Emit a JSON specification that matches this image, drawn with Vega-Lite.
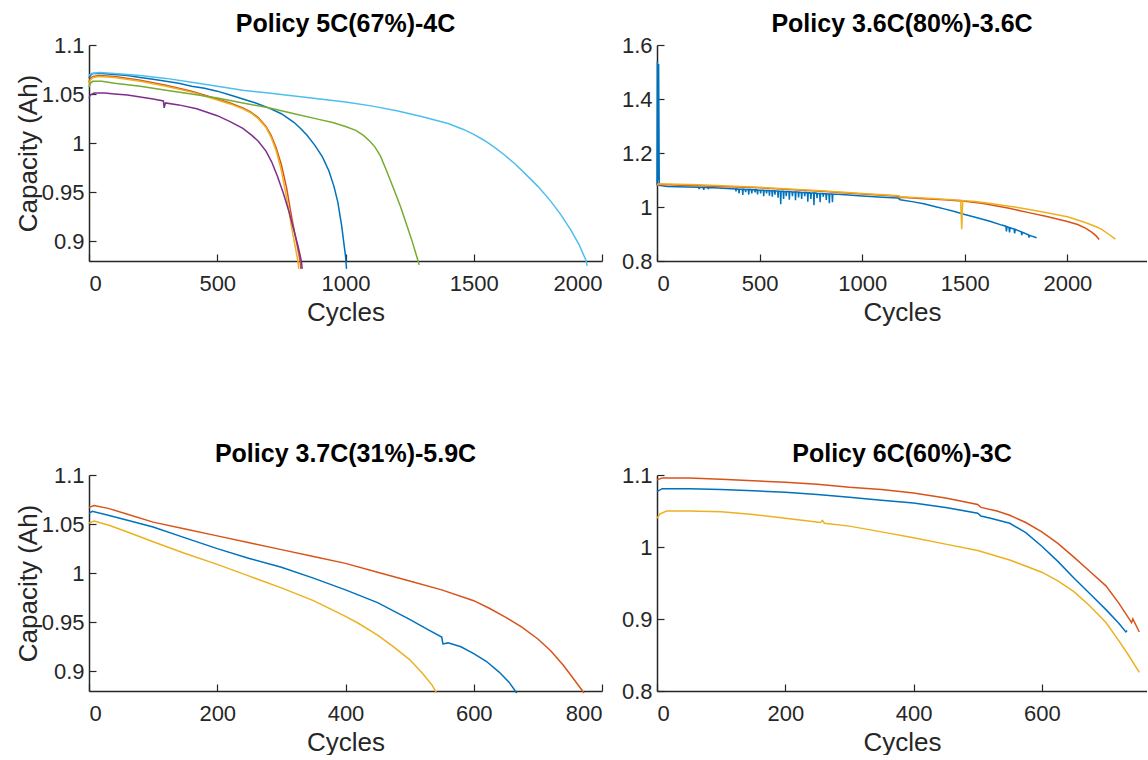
{
  "$schema": "https://vega.github.io/schema/vega-lite/v6.json",
  "background": "white",
  "padding": {"left": 15, "top": 12, "right": 0, "bottom": 0},
  "config": {
    "font": "Liberation Sans",
    "view": {"stroke": null},
    "axis": {"grid": false, "domainColor": "#262626", "tickColor": "#262626", "labelColor": "#262626", "titleColor": "#262626", "labelFontSize": 22, "titleFontSize": 26, "titleFontWeight": "normal", "tickSize": -7, "domainWidth": 1.5, "tickWidth": 1.2, "labelFont": "Liberation Sans", "titleFont": "Liberation Sans"},
    "axisX": {"labelPadding": 19, "titlePadding": 5},
    "axisY": {"labelPadding": 12, "titlePadding": 0},
    "title": {"fontSize": 25, "fontWeight": "bold", "color": "#000000", "anchor": "middle", "frame": "group", "font": "Liberation Sans", "offset": -3},
    "line": {"strokeWidth": 1.5, "clip": true}
  },
  "datasets": {
    "p1": [
      {"cell":"a1","cycle":0,"cap":1.066},{"cell":"a1","cycle":5,"cap":1.069},{"cell":"a1","cycle":15,"cap":1.071},{"cell":"a1","cycle":50,"cap":1.071},{"cell":"a1","cycle":100,"cap":1.070},{"cell":"a1","cycle":150,"cap":1.069},{"cell":"a1","cycle":200,"cap":1.067},{"cell":"a1","cycle":250,"cap":1.065},{"cell":"a1","cycle":300,"cap":1.063},{"cell":"a1","cycle":350,"cap":1.061},{"cell":"a1","cycle":400,"cap":1.058},{"cell":"a1","cycle":450,"cap":1.056},{"cell":"a1","cycle":500,"cap":1.053},{"cell":"a1","cycle":550,"cap":1.049},{"cell":"a1","cycle":600,"cap":1.045},{"cell":"a1","cycle":650,"cap":1.041},{"cell":"a1","cycle":700,"cap":1.036},{"cell":"a1","cycle":750,"cap":1.030},{"cell":"a1","cycle":800,"cap":1.021},{"cell":"a1","cycle":825,"cap":1.015},{"cell":"a1","cycle":850,"cap":1.008},{"cell":"a1","cycle":880,"cap":0.998},{"cell":"a1","cycle":910,"cap":0.986},{"cell":"a1","cycle":935,"cap":0.972},{"cell":"a1","cycle":955,"cap":0.956},{"cell":"a1","cycle":970,"cap":0.940},{"cell":"a1","cycle":985,"cap":0.916},{"cell":"a1","cycle":1000,"cap":0.885},{"cell":"a1","cycle":1004,"cap":0.872},
      {"cell":"a2","cycle":0,"cap":1.062},{"cell":"a2","cycle":5,"cap":1.066},{"cell":"a2","cycle":15,"cap":1.068},{"cell":"a2","cycle":40,"cap":1.069},{"cell":"a2","cycle":100,"cap":1.068},{"cell":"a2","cycle":200,"cap":1.064},{"cell":"a2","cycle":300,"cap":1.059},{"cell":"a2","cycle":400,"cap":1.053},{"cell":"a2","cycle":500,"cap":1.045},{"cell":"a2","cycle":550,"cap":1.041},{"cell":"a2","cycle":600,"cap":1.036},{"cell":"a2","cycle":630,"cap":1.032},{"cell":"a2","cycle":660,"cap":1.026},{"cell":"a2","cycle":690,"cap":1.017},{"cell":"a2","cycle":710,"cap":1.008},{"cell":"a2","cycle":730,"cap":0.995},{"cell":"a2","cycle":750,"cap":0.978},{"cell":"a2","cycle":770,"cap":0.955},{"cell":"a2","cycle":790,"cap":0.925},{"cell":"a2","cycle":810,"cap":0.898},{"cell":"a2","cycle":823,"cap":0.880},{"cell":"a2","cycle":826,"cap":0.872},
      {"cell":"a3","cycle":0,"cap":1.060},{"cell":"a3","cycle":5,"cap":1.064},{"cell":"a3","cycle":15,"cap":1.067},{"cell":"a3","cycle":40,"cap":1.068},{"cell":"a3","cycle":100,"cap":1.067},{"cell":"a3","cycle":200,"cap":1.063},{"cell":"a3","cycle":300,"cap":1.058},{"cell":"a3","cycle":400,"cap":1.052},{"cell":"a3","cycle":500,"cap":1.044},{"cell":"a3","cycle":550,"cap":1.040},{"cell":"a3","cycle":600,"cap":1.035},{"cell":"a3","cycle":630,"cap":1.031},{"cell":"a3","cycle":660,"cap":1.025},{"cell":"a3","cycle":690,"cap":1.016},{"cell":"a3","cycle":710,"cap":1.006},{"cell":"a3","cycle":730,"cap":0.992},{"cell":"a3","cycle":750,"cap":0.972},{"cell":"a3","cycle":770,"cap":0.945},{"cell":"a3","cycle":790,"cap":0.914},{"cell":"a3","cycle":805,"cap":0.893},{"cell":"a3","cycle":815,"cap":0.879},{"cell":"a3","cycle":818,"cap":0.872},
      {"cell":"a4","cycle":0,"cap":1.046},{"cell":"a4","cycle":5,"cap":1.049},{"cell":"a4","cycle":20,"cap":1.051},{"cell":"a4","cycle":60,"cap":1.051},{"cell":"a4","cycle":100,"cap":1.050},{"cell":"a4","cycle":150,"cap":1.049},{"cell":"a4","cycle":200,"cap":1.047},{"cell":"a4","cycle":250,"cap":1.045},{"cell":"a4","cycle":290,"cap":1.043},{"cell":"a4","cycle":293,"cap":1.036},{"cell":"a4","cycle":298,"cap":1.041},{"cell":"a4","cycle":350,"cap":1.039},{"cell":"a4","cycle":420,"cap":1.035},{"cell":"a4","cycle":500,"cap":1.028},{"cell":"a4","cycle":550,"cap":1.022},{"cell":"a4","cycle":600,"cap":1.015},{"cell":"a4","cycle":635,"cap":1.008},{"cell":"a4","cycle":660,"cap":1.002},{"cell":"a4","cycle":690,"cap":0.992},{"cell":"a4","cycle":712,"cap":0.981},{"cell":"a4","cycle":735,"cap":0.966},{"cell":"a4","cycle":759,"cap":0.948},{"cell":"a4","cycle":780,"cap":0.930},{"cell":"a4","cycle":800,"cap":0.910},{"cell":"a4","cycle":815,"cap":0.895},{"cell":"a4","cycle":828,"cap":0.880},{"cell":"a4","cycle":831,"cap":0.872},
      {"cell":"a5","cycle":0,"cap":1.057},{"cell":"a5","cycle":5,"cap":1.061},{"cell":"a5","cycle":15,"cap":1.063},{"cell":"a5","cycle":50,"cap":1.063},{"cell":"a5","cycle":100,"cap":1.061},{"cell":"a5","cycle":200,"cap":1.058},{"cell":"a5","cycle":300,"cap":1.054},{"cell":"a5","cycle":400,"cap":1.050},{"cell":"a5","cycle":500,"cap":1.046},{"cell":"a5","cycle":600,"cap":1.041},{"cell":"a5","cycle":700,"cap":1.036},{"cell":"a5","cycle":800,"cap":1.030},{"cell":"a5","cycle":900,"cap":1.024},{"cell":"a5","cycle":950,"cap":1.021},{"cell":"a5","cycle":1000,"cap":1.017},{"cell":"a5","cycle":1040,"cap":1.013},{"cell":"a5","cycle":1070,"cap":1.008},{"cell":"a5","cycle":1095,"cap":1.002},{"cell":"a5","cycle":1115,"cap":0.996},{"cell":"a5","cycle":1136,"cap":0.987},{"cell":"a5","cycle":1160,"cap":0.972},{"cell":"a5","cycle":1190,"cap":0.952},{"cell":"a5","cycle":1215,"cap":0.935},{"cell":"a5","cycle":1237,"cap":0.918},{"cell":"a5","cycle":1260,"cap":0.900},{"cell":"a5","cycle":1283,"cap":0.880},{"cell":"a5","cycle":1287,"cap":0.876},
      {"cell":"a6","cycle":0,"cap":1.069},{"cell":"a6","cycle":10,"cap":1.071},{"cell":"a6","cycle":40,"cap":1.072},{"cell":"a6","cycle":100,"cap":1.071},{"cell":"a6","cycle":200,"cap":1.069},{"cell":"a6","cycle":300,"cap":1.066},{"cell":"a6","cycle":400,"cap":1.062},{"cell":"a6","cycle":500,"cap":1.058},{"cell":"a6","cycle":600,"cap":1.054},{"cell":"a6","cycle":700,"cap":1.051},{"cell":"a6","cycle":800,"cap":1.048},{"cell":"a6","cycle":900,"cap":1.045},{"cell":"a6","cycle":1000,"cap":1.042},{"cell":"a6","cycle":1100,"cap":1.038},{"cell":"a6","cycle":1200,"cap":1.033},{"cell":"a6","cycle":1300,"cap":1.027},{"cell":"a6","cycle":1400,"cap":1.020},{"cell":"a6","cycle":1460,"cap":1.014},{"cell":"a6","cycle":1500,"cap":1.009},{"cell":"a6","cycle":1540,"cap":1.003},{"cell":"a6","cycle":1580,"cap":0.996},{"cell":"a6","cycle":1620,"cap":0.988},{"cell":"a6","cycle":1660,"cap":0.979},{"cell":"a6","cycle":1700,"cap":0.969},{"cell":"a6","cycle":1750,"cap":0.956},{"cell":"a6","cycle":1800,"cap":0.941},{"cell":"a6","cycle":1840,"cap":0.927},{"cell":"a6","cycle":1880,"cap":0.911},{"cell":"a6","cycle":1910,"cap":0.897},{"cell":"a6","cycle":1937,"cap":0.881},{"cell":"a6","cycle":1942,"cap":0.875}
    ],
    "p2": [
      {"cell":"b1","cycle":0,"cap":1.080},{"cell":"b1","cycle":2,"cap":1.54},{"cell":"b1","cycle":5,"cap":1.10},{"cell":"b1","cycle":8,"cap":1.53},{"cell":"b1","cycle":11,"cap":1.08},{"cell":"b1","cycle":50,"cap":1.076},{"cell":"b1","cycle":150,"cap":1.074},
      {"cell":"b1","cycle":203,"cap":1.073},{"cell":"b1","cycle":205,"cap":1.066},{"cell":"b1","cycle":207,"cap":1.073},
      {"cell":"b1","cycle":226,"cap":1.072},{"cell":"b1","cycle":228,"cap":1.063},{"cell":"b1","cycle":230,"cap":1.072},
      {"cell":"b1","cycle":248,"cap":1.072},{"cell":"b1","cycle":250,"cap":1.066},{"cell":"b1","cycle":252,"cap":1.072},
      {"cell":"b1","cycle":300,"cap":1.070},
      {"cell":"b1","cycle":383,"cap":1.067},{"cell":"b1","cycle":385,"cap":1.058},{"cell":"b1","cycle":387,"cap":1.067},
      {"cell":"b1","cycle":398,"cap":1.066},{"cell":"b1","cycle":400,"cap":1.050},{"cell":"b1","cycle":402,"cap":1.066},
      {"cell":"b1","cycle":416,"cap":1.066},{"cell":"b1","cycle":418,"cap":1.045},{"cell":"b1","cycle":420,"cap":1.066},
      {"cell":"b1","cycle":430,"cap":1.065},{"cell":"b1","cycle":432,"cap":1.055},{"cell":"b1","cycle":434,"cap":1.065},
      {"cell":"b1","cycle":445,"cap":1.065},{"cell":"b1","cycle":447,"cap":1.046},{"cell":"b1","cycle":449,"cap":1.065},
      {"cell":"b1","cycle":460,"cap":1.064},{"cell":"b1","cycle":462,"cap":1.050},{"cell":"b1","cycle":464,"cap":1.064},
      {"cell":"b1","cycle":476,"cap":1.064},{"cell":"b1","cycle":478,"cap":1.054},{"cell":"b1","cycle":480,"cap":1.064},
      {"cell":"b1","cycle":488,"cap":1.063},{"cell":"b1","cycle":490,"cap":1.047},{"cell":"b1","cycle":492,"cap":1.063},
      {"cell":"b1","cycle":503,"cap":1.062},{"cell":"b1","cycle":505,"cap":1.050},{"cell":"b1","cycle":507,"cap":1.062},
      {"cell":"b1","cycle":518,"cap":1.062},{"cell":"b1","cycle":520,"cap":1.040},{"cell":"b1","cycle":522,"cap":1.062},
      {"cell":"b1","cycle":532,"cap":1.061},{"cell":"b1","cycle":534,"cap":1.050},{"cell":"b1","cycle":536,"cap":1.061},
      {"cell":"b1","cycle":546,"cap":1.061},{"cell":"b1","cycle":548,"cap":1.042},{"cell":"b1","cycle":550,"cap":1.061},
      {"cell":"b1","cycle":560,"cap":1.060},{"cell":"b1","cycle":562,"cap":1.038},{"cell":"b1","cycle":564,"cap":1.060},
      {"cell":"b1","cycle":573,"cap":1.060},{"cell":"b1","cycle":575,"cap":1.046},{"cell":"b1","cycle":577,"cap":1.060},
      {"cell":"b1","cycle":588,"cap":1.059},{"cell":"b1","cycle":590,"cap":1.034},{"cell":"b1","cycle":592,"cap":1.059},
      {"cell":"b1","cycle":601,"cap":1.058},{"cell":"b1","cycle":603,"cap":1.010},{"cell":"b1","cycle":605,"cap":1.058},
      {"cell":"b1","cycle":615,"cap":1.058},{"cell":"b1","cycle":617,"cap":1.030},{"cell":"b1","cycle":619,"cap":1.058},
      {"cell":"b1","cycle":628,"cap":1.057},{"cell":"b1","cycle":630,"cap":1.040},{"cell":"b1","cycle":632,"cap":1.057},
      {"cell":"b1","cycle":643,"cap":1.057},{"cell":"b1","cycle":645,"cap":1.027},{"cell":"b1","cycle":647,"cap":1.057},
      {"cell":"b1","cycle":658,"cap":1.056},{"cell":"b1","cycle":660,"cap":1.040},{"cell":"b1","cycle":662,"cap":1.056},
      {"cell":"b1","cycle":673,"cap":1.056},{"cell":"b1","cycle":675,"cap":1.025},{"cell":"b1","cycle":677,"cap":1.056},
      {"cell":"b1","cycle":688,"cap":1.055},{"cell":"b1","cycle":690,"cap":1.035},{"cell":"b1","cycle":692,"cap":1.055},
      {"cell":"b1","cycle":703,"cap":1.054},{"cell":"b1","cycle":705,"cap":1.030},{"cell":"b1","cycle":707,"cap":1.054},
      {"cell":"b1","cycle":718,"cap":1.054},{"cell":"b1","cycle":720,"cap":1.040},{"cell":"b1","cycle":722,"cap":1.054},
      {"cell":"b1","cycle":733,"cap":1.053},{"cell":"b1","cycle":735,"cap":1.020},{"cell":"b1","cycle":737,"cap":1.053},
      {"cell":"b1","cycle":748,"cap":1.052},{"cell":"b1","cycle":750,"cap":1.030},{"cell":"b1","cycle":752,"cap":1.052},
      {"cell":"b1","cycle":763,"cap":1.052},{"cell":"b1","cycle":765,"cap":1.007},{"cell":"b1","cycle":767,"cap":1.052},
      {"cell":"b1","cycle":778,"cap":1.051},{"cell":"b1","cycle":780,"cap":1.033},{"cell":"b1","cycle":782,"cap":1.051},
      {"cell":"b1","cycle":793,"cap":1.050},{"cell":"b1","cycle":795,"cap":1.018},{"cell":"b1","cycle":797,"cap":1.050},
      {"cell":"b1","cycle":808,"cap":1.050},{"cell":"b1","cycle":810,"cap":1.038},{"cell":"b1","cycle":812,"cap":1.050},
      {"cell":"b1","cycle":823,"cap":1.049},{"cell":"b1","cycle":825,"cap":1.026},{"cell":"b1","cycle":827,"cap":1.049},
      {"cell":"b1","cycle":838,"cap":1.048},{"cell":"b1","cycle":840,"cap":1.014},{"cell":"b1","cycle":842,"cap":1.048},
      {"cell":"b1","cycle":853,"cap":1.048},{"cell":"b1","cycle":855,"cap":1.018},{"cell":"b1","cycle":857,"cap":1.048},
      {"cell":"b1","cycle":900,"cap":1.046},{"cell":"b1","cycle":1000,"cap":1.041},{"cell":"b1","cycle":1100,"cap":1.036},{"cell":"b1","cycle":1175,"cap":1.033},{"cell":"b1","cycle":1185,"cap":1.027},{"cell":"b1","cycle":1250,"cap":1.019},{"cell":"b1","cycle":1300,"cap":1.012},{"cell":"b1","cycle":1358,"cap":1.001},{"cell":"b1","cycle":1400,"cap":0.993},{"cell":"b1","cycle":1450,"cap":0.983},{"cell":"b1","cycle":1500,"cap":0.972},{"cell":"b1","cycle":1560,"cap":0.960},{"cell":"b1","cycle":1626,"cap":0.946},{"cell":"b1","cycle":1680,"cap":0.933},
      {"cell":"b1","cycle":1700,"cap":0.929},{"cell":"b1","cycle":1703,"cap":0.910},{"cell":"b1","cycle":1706,"cap":0.927},
      {"cell":"b1","cycle":1715,"cap":0.925},{"cell":"b1","cycle":1718,"cap":0.906},{"cell":"b1","cycle":1721,"cap":0.923},
      {"cell":"b1","cycle":1740,"cap":0.918},{"cell":"b1","cycle":1743,"cap":0.902},{"cell":"b1","cycle":1746,"cap":0.917},
      {"cell":"b1","cycle":1775,"cap":0.908},{"cell":"b1","cycle":1778,"cap":0.896},{"cell":"b1","cycle":1781,"cap":0.906},
      {"cell":"b1","cycle":1810,"cap":0.897},{"cell":"b1","cycle":1813,"cap":0.887},{"cell":"b1","cycle":1816,"cap":0.895},
      {"cell":"b1","cycle":1850,"cap":0.886},
      {"cell":"b2","cycle":0,"cap":1.080},{"cell":"b2","cycle":10,"cap":1.083},{"cell":"b2","cycle":200,"cap":1.079},{"cell":"b2","cycle":500,"cap":1.071},{"cell":"b2","cycle":800,"cap":1.058},{"cell":"b2","cycle":1000,"cap":1.048},{"cell":"b2","cycle":1180,"cap":1.040},{"cell":"b2","cycle":1184,"cap":1.033},{"cell":"b2","cycle":1190,"cap":1.036},{"cell":"b2","cycle":1300,"cap":1.031},{"cell":"b2","cycle":1400,"cap":1.027},{"cell":"b2","cycle":1500,"cap":1.021},{"cell":"b2","cycle":1590,"cap":1.013},{"cell":"b2","cycle":1650,"cap":1.005},{"cell":"b2","cycle":1716,"cap":0.995},{"cell":"b2","cycle":1800,"cap":0.981},{"cell":"b2","cycle":1900,"cap":0.965},{"cell":"b2","cycle":2000,"cap":0.946},{"cell":"b2","cycle":2050,"cap":0.935},{"cell":"b2","cycle":2090,"cap":0.921},{"cell":"b2","cycle":2120,"cap":0.906},{"cell":"b2","cycle":2140,"cap":0.893},{"cell":"b2","cycle":2155,"cap":0.880},
      {"cell":"b3","cycle":0,"cap":1.083},{"cell":"b3","cycle":10,"cap":1.086},{"cell":"b3","cycle":200,"cap":1.082},{"cell":"b3","cycle":500,"cap":1.073},{"cell":"b3","cycle":800,"cap":1.060},{"cell":"b3","cycle":1000,"cap":1.050},{"cell":"b3","cycle":1180,"cap":1.042},{"cell":"b3","cycle":1184,"cap":1.036},{"cell":"b3","cycle":1190,"cap":1.038},{"cell":"b3","cycle":1300,"cap":1.033},{"cell":"b3","cycle":1400,"cap":1.029},{"cell":"b3","cycle":1480,"cap":1.025},{"cell":"b3","cycle":1485,"cap":0.918},{"cell":"b3","cycle":1490,"cap":1.024},{"cell":"b3","cycle":1550,"cap":1.020},{"cell":"b3","cycle":1600,"cap":1.016},{"cell":"b3","cycle":1700,"cap":1.005},{"cell":"b3","cycle":1800,"cap":0.993},{"cell":"b3","cycle":1900,"cap":0.979},{"cell":"b3","cycle":2000,"cap":0.964},{"cell":"b3","cycle":2050,"cap":0.952},{"cell":"b3","cycle":2100,"cap":0.939},{"cell":"b3","cycle":2140,"cap":0.927},{"cell":"b3","cycle":2165,"cap":0.918},{"cell":"b3","cycle":2200,"cap":0.900},{"cell":"b3","cycle":2234,"cap":0.881}
    ],
    "p3": [
      {"cell":"c1","cycle":0,"cap":1.061},{"cell":"c1","cycle":5,"cap":1.063},{"cell":"c1","cycle":30,"cap":1.059},{"cell":"c1","cycle":60,"cap":1.054},{"cell":"c1","cycle":100,"cap":1.047},{"cell":"c1","cycle":150,"cap":1.036},{"cell":"c1","cycle":200,"cap":1.025},{"cell":"c1","cycle":250,"cap":1.015},{"cell":"c1","cycle":300,"cap":1.006},{"cell":"c1","cycle":350,"cap":0.995},{"cell":"c1","cycle":400,"cap":0.983},{"cell":"c1","cycle":450,"cap":0.970},{"cell":"c1","cycle":500,"cap":0.953},{"cell":"c1","cycle":530,"cap":0.942},{"cell":"c1","cycle":550,"cap":0.935},{"cell":"c1","cycle":552,"cap":0.928},{"cell":"c1","cycle":560,"cap":0.929},{"cell":"c1","cycle":580,"cap":0.925},{"cell":"c1","cycle":600,"cap":0.918},{"cell":"c1","cycle":620,"cap":0.910},{"cell":"c1","cycle":640,"cap":0.899},{"cell":"c1","cycle":655,"cap":0.889},{"cell":"c1","cycle":667,"cap":0.878},
      {"cell":"c2","cycle":0,"cap":1.067},{"cell":"c2","cycle":8,"cap":1.069},{"cell":"c2","cycle":30,"cap":1.066},{"cell":"c2","cycle":60,"cap":1.060},{"cell":"c2","cycle":100,"cap":1.052},{"cell":"c2","cycle":150,"cap":1.045},{"cell":"c2","cycle":200,"cap":1.038},{"cell":"c2","cycle":250,"cap":1.031},{"cell":"c2","cycle":300,"cap":1.024},{"cell":"c2","cycle":350,"cap":1.017},{"cell":"c2","cycle":400,"cap":1.010},{"cell":"c2","cycle":450,"cap":1.001},{"cell":"c2","cycle":500,"cap":0.992},{"cell":"c2","cycle":550,"cap":0.983},{"cell":"c2","cycle":600,"cap":0.972},{"cell":"c2","cycle":625,"cap":0.964},{"cell":"c2","cycle":650,"cap":0.955},{"cell":"c2","cycle":675,"cap":0.945},{"cell":"c2","cycle":700,"cap":0.933},{"cell":"c2","cycle":720,"cap":0.921},{"cell":"c2","cycle":740,"cap":0.906},{"cell":"c2","cycle":755,"cap":0.893},{"cell":"c2","cycle":772,"cap":0.878},
      {"cell":"c3","cycle":0,"cap":1.051},{"cell":"c3","cycle":8,"cap":1.053},{"cell":"c3","cycle":30,"cap":1.049},{"cell":"c3","cycle":60,"cap":1.042},{"cell":"c3","cycle":100,"cap":1.032},{"cell":"c3","cycle":150,"cap":1.020},{"cell":"c3","cycle":200,"cap":1.009},{"cell":"c3","cycle":250,"cap":0.997},{"cell":"c3","cycle":300,"cap":0.985},{"cell":"c3","cycle":350,"cap":0.972},{"cell":"c3","cycle":400,"cap":0.956},{"cell":"c3","cycle":420,"cap":0.949},{"cell":"c3","cycle":450,"cap":0.937},{"cell":"c3","cycle":475,"cap":0.925},{"cell":"c3","cycle":500,"cap":0.912},{"cell":"c3","cycle":520,"cap":0.898},{"cell":"c3","cycle":535,"cap":0.886},{"cell":"c3","cycle":542,"cap":0.878}
    ],
    "p4": [
      {"cell":"d1","cycle":0,"cap":1.077},{"cell":"d1","cycle":8,"cap":1.081},{"cell":"d1","cycle":50,"cap":1.081},{"cell":"d1","cycle":100,"cap":1.080},{"cell":"d1","cycle":150,"cap":1.078},{"cell":"d1","cycle":200,"cap":1.076},{"cell":"d1","cycle":250,"cap":1.073},{"cell":"d1","cycle":300,"cap":1.069},{"cell":"d1","cycle":350,"cap":1.065},{"cell":"d1","cycle":400,"cap":1.061},{"cell":"d1","cycle":450,"cap":1.055},{"cell":"d1","cycle":500,"cap":1.047},{"cell":"d1","cycle":505,"cap":1.043},{"cell":"d1","cycle":520,"cap":1.040},{"cell":"d1","cycle":550,"cap":1.033},{"cell":"d1","cycle":575,"cap":1.020},{"cell":"d1","cycle":600,"cap":1.001},{"cell":"d1","cycle":625,"cap":0.980},{"cell":"d1","cycle":650,"cap":0.957},{"cell":"d1","cycle":675,"cap":0.935},{"cell":"d1","cycle":700,"cap":0.913},{"cell":"d1","cycle":720,"cap":0.894},{"cell":"d1","cycle":731,"cap":0.882},{"cell":"d1","cycle":733,"cap":0.884},
      {"cell":"d2","cycle":0,"cap":1.093},{"cell":"d2","cycle":8,"cap":1.096},{"cell":"d2","cycle":50,"cap":1.096},{"cell":"d2","cycle":100,"cap":1.094},{"cell":"d2","cycle":150,"cap":1.092},{"cell":"d2","cycle":200,"cap":1.090},{"cell":"d2","cycle":250,"cap":1.087},{"cell":"d2","cycle":300,"cap":1.083},{"cell":"d2","cycle":350,"cap":1.080},{"cell":"d2","cycle":400,"cap":1.075},{"cell":"d2","cycle":450,"cap":1.068},{"cell":"d2","cycle":500,"cap":1.059},{"cell":"d2","cycle":505,"cap":1.055},{"cell":"d2","cycle":530,"cap":1.050},{"cell":"d2","cycle":550,"cap":1.044},{"cell":"d2","cycle":575,"cap":1.034},{"cell":"d2","cycle":600,"cap":1.021},{"cell":"d2","cycle":625,"cap":1.005},{"cell":"d2","cycle":650,"cap":0.986},{"cell":"d2","cycle":675,"cap":0.966},{"cell":"d2","cycle":700,"cap":0.946},{"cell":"d2","cycle":720,"cap":0.922},{"cell":"d2","cycle":740,"cap":0.895},{"cell":"d2","cycle":742,"cap":0.900},{"cell":"d2","cycle":752,"cap":0.882},
      {"cell":"d3","cycle":0,"cap":1.040},{"cell":"d3","cycle":5,"cap":1.046},{"cell":"d3","cycle":15,"cap":1.050},{"cell":"d3","cycle":50,"cap":1.050},{"cell":"d3","cycle":100,"cap":1.049},{"cell":"d3","cycle":150,"cap":1.045},{"cell":"d3","cycle":200,"cap":1.040},{"cell":"d3","cycle":255,"cap":1.034},{"cell":"d3","cycle":258,"cap":1.037},{"cell":"d3","cycle":261,"cap":1.033},{"cell":"d3","cycle":300,"cap":1.029},{"cell":"d3","cycle":350,"cap":1.021},{"cell":"d3","cycle":400,"cap":1.013},{"cell":"d3","cycle":450,"cap":1.004},{"cell":"d3","cycle":500,"cap":0.995},{"cell":"d3","cycle":550,"cap":0.982},{"cell":"d3","cycle":600,"cap":0.965},{"cell":"d3","cycle":625,"cap":0.953},{"cell":"d3","cycle":650,"cap":0.938},{"cell":"d3","cycle":675,"cap":0.918},{"cell":"d3","cycle":700,"cap":0.895},{"cell":"d3","cycle":720,"cap":0.870},{"cell":"d3","cycle":735,"cap":0.850},{"cell":"d3","cycle":752,"cap":0.826}
    ]
  },
  "columns": 2,
  "spacing": {"row": 214, "column": 55},
  "bounds": "flush",
  "resolve": {"scale": {"color": "independent", "x": "independent", "y": "independent"}},
  "concat": [
    {
      "title": "Policy 5C(67%)-4C",
      "width": 513, "height": 216,
      "data": {"name": "p1"},
      "mark": {"type": "line"},
      "encoding": {
        "x": {"field": "cycle", "type": "quantitative", "scale": {"domain": [0, 2000], "nice": false, "zero": false}, "axis": {"title": "Cycles", "values": [0, 500, 1000, 1500, 2000], "format": "d"}},
        "y": {"field": "cap", "type": "quantitative", "scale": {"domain": [0.88, 1.1], "nice": false, "zero": false}, "axis": {"title": "Capacity (Ah)", "values": [0.9, 0.95, 1, 1.05, 1.1], "format": "~g"}},
        "color": {"field": "cell", "type": "nominal", "scale": {"domain": ["a1","a2","a3","a4","a5","a6"], "range": ["#0072BD","#D95319","#EDB120","#7E2F8E","#77AC30","#4DBEEE"]}, "legend": null}
      }
    },
    {
      "title": "Policy 3.6C(80%)-3.6C",
      "width": 490, "height": 216,
      "data": {"name": "p2"},
      "mark": {"type": "line"},
      "encoding": {
        "x": {"field": "cycle", "type": "quantitative", "scale": {"domain": [0, 2388], "nice": false, "zero": false}, "axis": {"title": "Cycles", "values": [0, 500, 1000, 1500, 2000], "format": "d"}},
        "y": {"field": "cap", "type": "quantitative", "scale": {"domain": [0.8, 1.6], "nice": false, "zero": false}, "axis": {"title": null, "values": [0.8, 1, 1.2, 1.4, 1.6], "format": "~g"}},
        "color": {"field": "cell", "type": "nominal", "scale": {"domain": ["b1","b2","b3"], "range": ["#0072BD","#D95319","#EDB120"]}, "legend": null}
      }
    },
    {
      "title": "Policy 3.7C(31%)-5.9C",
      "width": 513, "height": 216,
      "data": {"name": "p3"},
      "mark": {"type": "line"},
      "encoding": {
        "x": {"field": "cycle", "type": "quantitative", "scale": {"domain": [0, 800], "nice": false, "zero": false}, "axis": {"title": "Cycles", "values": [0, 200, 400, 600, 800], "format": "d"}},
        "y": {"field": "cap", "type": "quantitative", "scale": {"domain": [0.88, 1.1], "nice": false, "zero": false}, "axis": {"title": "Capacity (Ah)", "values": [0.9, 0.95, 1, 1.05, 1.1], "format": "~g"}},
        "color": {"field": "cell", "type": "nominal", "scale": {"domain": ["c1","c2","c3"], "range": ["#0072BD","#D95319","#EDB120"]}, "legend": null}
      }
    },
    {
      "title": "Policy 6C(60%)-3C",
      "width": 490, "height": 216,
      "data": {"name": "p4"},
      "mark": {"type": "line"},
      "encoding": {
        "x": {"field": "cycle", "type": "quantitative", "scale": {"domain": [0, 764], "nice": false, "zero": false}, "axis": {"title": "Cycles", "values": [0, 200, 400, 600], "format": "d"}},
        "y": {"field": "cap", "type": "quantitative", "scale": {"domain": [0.8, 1.1], "nice": false, "zero": false}, "axis": {"title": null, "values": [0.8, 0.9, 1, 1.1], "format": "~g"}},
        "color": {"field": "cell", "type": "nominal", "scale": {"domain": ["d1","d2","d3"], "range": ["#0072BD","#D95319","#EDB120"]}, "legend": null}
      }
    }
  ]
}
